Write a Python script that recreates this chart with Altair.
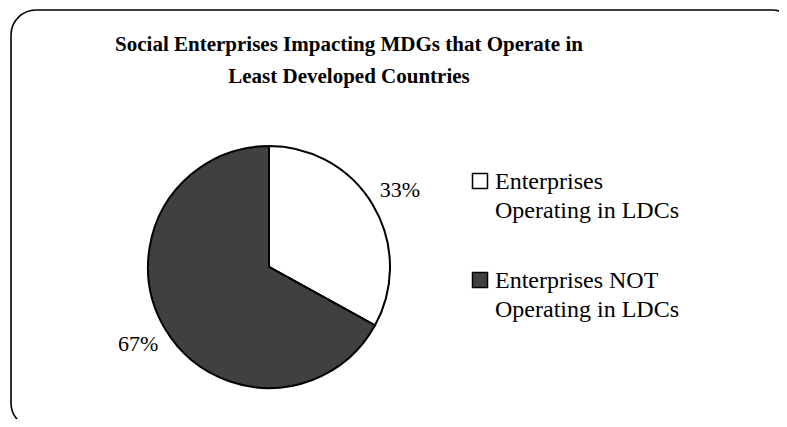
import altair as alt
import pandas as pd

categories = ["Enterprises Operating in LDCs", "Enterprises NOT Operating in LDCs"]
values = [33, 67]
pct_labels = ["33%", "67%"]
legend_labels = ["Enterprises\nOperating in LDCs", "Enterprises NOT\nOperating in LDCs"]
colors = ["#ffffff", "#404040"]
title_lines = ["Social Enterprises Impacting MDGs that Operate in", "Least Developed Countries"]

FONT = "Liberation Serif"

df = pd.DataFrame({
    "cat": categories,
    "value": values,
    "pct": pct_labels,
    "leg": legend_labels,
    "idx": list(range(len(categories))),
})

color_scale = alt.Scale(domain=categories, range=colors)

CX, CY, R = 261, 259, 121

border = alt.Chart(pd.DataFrame({"a": [0]})).mark_rect(
    fill="white", stroke="black", strokeWidth=1.6, cornerRadius=25
).encode(
    x=alt.value(3), x2=alt.value(789), y=alt.value(2), y2=alt.value(420)
)

title = alt.Chart(pd.DataFrame({"t": ["\n".join(title_lines)]})).mark_text(
    font=FONT, fontSize=21, fontWeight="bold", align="center", baseline="alphabetic",
    lineBreak="\n", lineHeight=32, color="black"
).encode(text="t:N", x=alt.value(341), y=alt.value(43))

base = alt.Chart(df).encode(
    theta=alt.Theta("value:Q", stack=True),
    order=alt.Order("idx:Q"),
)

arcs = base.mark_arc(outerRadius=R, stroke="black", strokeWidth=2).encode(
    color=alt.Color("cat:N", scale=color_scale, legend=None),
    x=alt.value(CX), y=alt.value(CY),
)

pct = base.mark_text(radius=152, font=FONT, fontSize=22, color="black",
                     align="center", baseline="middle").encode(
    text="pct:N", x=alt.value(CX), y=alt.value(CY),
)

leg_y = alt.Y("cat:N", scale=alt.Scale(domain=categories, range=[173, 272], padding=0), axis=None)

leg_sq = alt.Chart(df).mark_point(shape="square", filled=True, size=225, stroke="black",
                                   strokeWidth=1.5, opacity=1).encode(
    x=alt.value(472), y=leg_y,
    color=alt.Color("cat:N", scale=color_scale, legend=None),
)

leg_txt = alt.Chart(df).mark_text(font=FONT, fontSize=24, align="left", baseline="alphabetic",
                                  dx=15, dy=8, lineBreak="\n", lineHeight=28.5, color="black").encode(
    x=alt.value(472), y=leg_y, text="leg:N",
)

chart = alt.layer(border, title, arcs, pct, leg_sq, leg_txt).properties(
    width=771, height=411, padding=0, autosize=alt.AutoSizeParams(type="none"),
    background="white",
).configure_view(strokeWidth=0)

chart.save("out.html", embed_options={"renderer": "svg", "actions": False})
